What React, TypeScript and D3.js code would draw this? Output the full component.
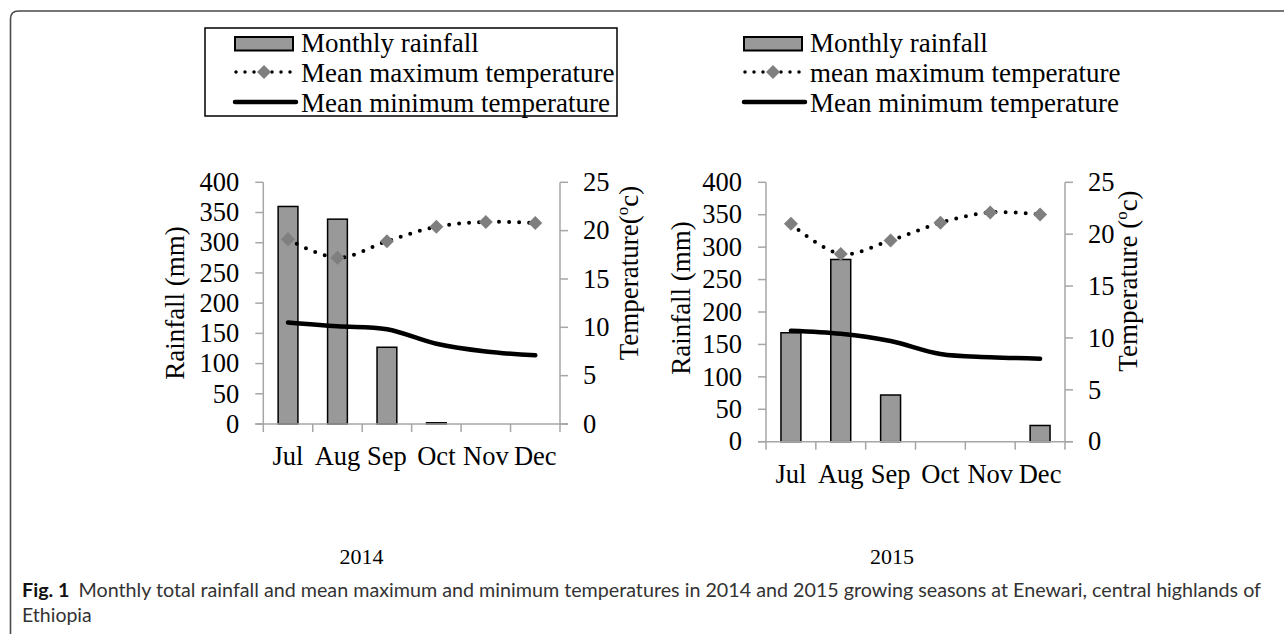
import React from 'react';
import * as d3 from 'd3';

const months = ['Jul', 'Aug', 'Sep', 'Oct', 'Nov', 'Dec'];
const rain2014 = [360, 339, 127, 2, 0, 0];
const maxT2014 = [19.1, 17.2, 18.9, 20.4, 20.9, 20.8];
const minT2014 = [10.5, 10.1, 9.8, 8.3, 7.5, 7.1];
const rain2015 = [168, 281, 72, 0, 0, 25];
const maxT2015 = [21.0, 18.1, 19.4, 21.1, 22.1, 21.9];
const minT2015 = [10.7, 10.4, 9.7, 8.45, 8.15, 8.0];
const rainDomain = [0, 400];
const tempDomain = [0, 25];

const SERIF = '"Liberation Serif", "Times New Roman", serif';
const AXIS = '#a6a6a6';
const BAR = '#999999';
const MARK = '#7f7f7f';

type PanelProps = {
  left: number; right: number; top: number; bottom: number;
  rain: number[]; maxT: number[]; minT: number[];
  rainTitleX: number; rainTitleY: number;
  tTitleX: number; tTitleY: number; tTitle: string;
  year: string; yearX: number;
};

function Diamond({ cx, cy, r }: { cx: number; cy: number; r: number }) {
  return <path d={`M${cx},${cy - r}L${cx + r},${cy}L${cx},${cy + r}L${cx - r},${cy}Z`} fill={MARK} />;
}

function Panel(p: PanelProps) {
  const x = d3.scaleBand<string>().domain(months).range([p.left, p.right]).padding(0);
  const bw = x.bandwidth();
  const cx = (m: string) => (x(m) as number) + bw / 2;
  const yL = d3.scaleLinear().domain(rainDomain).range([p.bottom, p.top]);
  const yR = d3.scaleLinear().domain(tempDomain).range([p.bottom, p.top]);
  const line = d3.line<number>()
    .x((_, i) => cx(months[i]))
    .y((d) => yR(d))
    .curve(d3.curveCatmullRom.alpha(0.5));
  const fs = 26.5;
  return (
    <g>
      {p.rain.map((v, i) => (
        <rect key={i} x={cx(months[i]) - bw * 0.2} width={bw * 0.4}
          y={yL(v)} height={Math.max(0, yL(0) - yL(v))}
          fill={BAR} stroke="#000" strokeWidth={1.5} />
      ))}
      <line x1={p.left} x2={p.left} y1={yL(rainDomain[1])} y2={yL(0)} stroke={AXIS} strokeWidth={1.5} />
      <line x1={p.right} x2={p.right} y1={yR(tempDomain[1])} y2={yR(0)} stroke={AXIS} strokeWidth={1.5} />
      <line x1={p.left - 8} x2={p.right + 8} y1={yL(0)} y2={yL(0)} stroke={AXIS} strokeWidth={1.5} />
      {yL.ticks(8).map((t) => (
        <g key={'l' + t}>
          <line x1={p.left - 8} x2={p.left} y1={yL(t)} y2={yL(t)} stroke={AXIS} strokeWidth={1.5} />
          <text x={p.left - 24} y={yL(t)} dy="0.33em" textAnchor="end" fontFamily={SERIF} fontSize={fs}>{t}</text>
        </g>
      ))}
      {yR.ticks(5).map((t) => (
        <g key={'r' + t}>
          <line x1={p.right} x2={p.right + 8} y1={yR(t)} y2={yR(t)} stroke={AXIS} strokeWidth={1.5} />
          <text x={p.right + 23} y={yR(t)} dy="0.33em" textAnchor="start" fontFamily={SERIF} fontSize={fs}>{t}</text>
        </g>
      ))}
      {months.map((m, i) => (
        <line key={'xt' + i} x1={x(m) as number} x2={x(m) as number} y1={yL(0)} y2={yL(0) + 8} stroke={AXIS} strokeWidth={1.5} />
      ))}
      <line x1={p.right} x2={p.right} y1={yL(0)} y2={yL(0) + 8} stroke={AXIS} strokeWidth={1.5} />
      {months.map((m) => (
        <text key={'xl' + m} x={cx(m)} y={yL(0) + 41} textAnchor="middle" fontFamily={SERIF} fontSize={fs}>{m}</text>
      ))}
      <path d={line(p.minT) || ''} fill="none" stroke="#000" strokeWidth={4.5} strokeLinecap="round" />
      <path d={line(p.maxT) || ''} fill="none" stroke="#000" strokeWidth={4} strokeDasharray="0 10" strokeLinecap="round" />
      {p.maxT.map((v, i) => (
        <Diamond key={'d' + i} cx={cx(months[i])} cy={yR(v)} r={7} />
      ))}
      <text transform={`translate(${p.rainTitleX},${p.rainTitleY}) rotate(-90)`} textAnchor="middle"
        fontFamily={SERIF} fontSize={27}>Rainfall (mm)</text>
      <text transform={`translate(${p.tTitleX},${p.tTitleY}) rotate(-90)`} textAnchor="middle"
        fontFamily={SERIF} fontSize={27}>
        {p.tTitle}<tspan fontSize={17} dy={-10}>o</tspan><tspan dy={10}>c)</tspan>
      </text>
      <text x={p.yearX} y={564} textAnchor="middle" fontFamily={SERIF} fontSize={22}>{p.year}</text>
    </g>
  );
}

function Legend({ x, textX, labels, box }: { x: number; textX: number; labels: string[]; box?: [number, number, number, number] }) {
  const rows = [44, 72, 102];
  const sx0 = x, sx1 = x + 58;
  return (
    <g>
      {box && <rect x={box[0]} y={box[1]} width={box[2]} height={box[3]} fill="none" stroke="#000" strokeWidth={1.5} />}
      <rect x={sx0} y={37} width={sx1 - sx0} height={13.5} fill={BAR} stroke="#000" strokeWidth={2} />
      <line x1={sx0 + 1} x2={sx1} y1={rows[1]} y2={rows[1]} stroke="#000" strokeWidth={3.5} strokeDasharray="0 9" strokeLinecap="round" />
      <Diamond cx={(sx0 + sx1) / 2} cy={rows[1]} r={7} />
      <line x1={sx0} x2={sx1 + 3} y1={rows[2]} y2={rows[2]} stroke="#000" strokeWidth={4.5} strokeLinecap="round" />
      {labels.map((l, i) => (
        <text key={l} x={textX} y={[52, 82, 112][i]} fontFamily={SERIF} fontSize={27}>{l}</text>
      ))}
    </g>
  );
}

export default function App() {
  return (
    <svg width={1284} height={636} style={{ position: 'absolute', left: 0, top: 0, background: '#fff' }}>
      <rect width={1284} height={636} fill="#fff" />
      <path d="M10.5,634 L10.5,19 Q10.5,11 18.5,11 L1284,11" fill="none" stroke="#4a4a4a" strokeWidth={1.6} />
      <Legend x={235} textX={301} box={[205, 28, 412, 88]}
        labels={['Monthly rainfall', 'Mean maximum temperature', 'Mean minimum temperature']} />
      <Legend x={744} textX={810}
        labels={['Monthly rainfall', 'mean maximum temperature', 'Mean minimum temperature']} />
      <Panel left={263.3} right={560} top={182.3} bottom={424}
        rain={rain2014} maxT={maxT2014} minT={minT2014}
        rainTitleX={184} rainTitleY={303} tTitleX={638} tTitleY={273} tTitle="Temperature("
        year="2014" yearX={361.5} />
      <Panel left={766} right={1065} top={182.3} bottom={441.7}
        rain={rain2015} maxT={maxT2015} minT={minT2015}
        rainTitleX={690} rainTitleY={298} tTitleX={1137} tTitleY={281} tTitle="Temperature ("
        year="2015" yearX={892} />
      <text x={22} y={597} fontFamily='Lato, "Open Sans", sans-serif' fontSize={19.5} fill="#333"
        textLength={1239} lengthAdjust="spacingAndGlyphs">
        <tspan fontWeight="bold" fill="#111">Fig. 1</tspan>
        <tspan dx={9}>Monthly total rainfall and mean maximum and minimum temperatures in 2014 and 2015 growing seasons at Enewari, central highlands of</tspan>
      </text>
      <text x={22} y={622} fontFamily='Lato, "Open Sans", sans-serif' fontSize={19.5} fill="#333">Ethiopia</text>
    </svg>
  );
}
